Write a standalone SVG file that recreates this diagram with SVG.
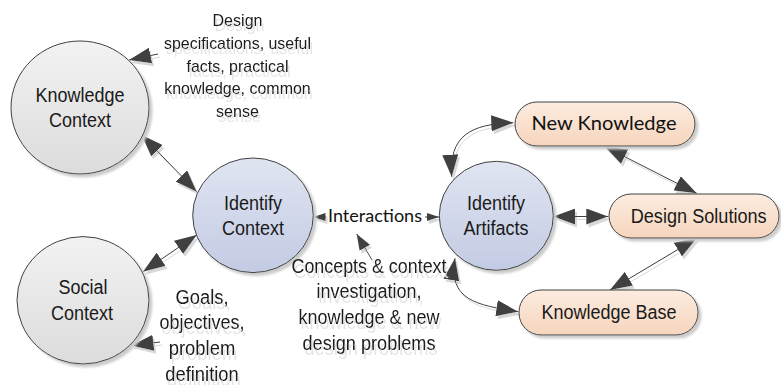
<svg xmlns="http://www.w3.org/2000/svg" width="781" height="385" viewBox="0 0 781 385">
<style>
.nd{stroke:#404040;stroke-width:1}
.lb{font-family:"Liberation Sans",Arial,sans-serif;font-size:19.5px;fill:#1a1a1a;text-anchor:middle}
.cb{font-family:Lato,"Open Sans",sans-serif;fill:#111;text-anchor:middle}
.an{font-family:"Liberation Sans",Arial,sans-serif;fill:#1a1a1a;text-anchor:middle}
.cn{fill:none;stroke:#404040;stroke-width:1}
</style>
<defs>
<linearGradient id="gg" x1="0" y1="0" x2="0" y2="1"><stop offset="0" stop-color="#f2f2f2"/><stop offset="1" stop-color="#dcdcdc"/></linearGradient>
<linearGradient id="gb" x1="0" y1="0" x2="0" y2="1"><stop offset="0" stop-color="#e0e5f1"/><stop offset="1" stop-color="#c3cbe4"/></linearGradient>
<linearGradient id="go" x1="0" y1="0" x2="0" y2="1"><stop offset="0" stop-color="#fcece0"/><stop offset="1" stop-color="#f6d5bd"/></linearGradient>
<filter id="sh" x="-10%" y="-10%" width="130%" height="130%">
<feOffset in="SourceAlpha" dx="3" dy="3" result="o"/>
<feGaussianBlur in="o" stdDeviation="1" result="b"/>
<feFlood flood-color="#cccccc"/>
<feComposite in2="b" operator="in" result="s"/>
<feMerge><feMergeNode in="s"/><feMergeNode in="SourceGraphic"/></feMerge>
</filter>
<filter id="ts" x="-10%" y="-10%" width="130%" height="150%">
<feOffset in="SourceAlpha" dx="2" dy="5" result="o"/>
<feFlood flood-color="#e4e4e4"/>
<feComposite in2="o" operator="in" result="s"/>
<feMerge><feMergeNode in="s"/><feMergeNode in="SourceGraphic"/></feMerge>
</filter>
<filter id="cs" x="-20%" y="-20%" width="140%" height="140%">
<feOffset in="SourceAlpha" dx="2" dy="3" result="o"/>
<feFlood flood-color="#d8d8d8"/>
<feComposite in2="o" operator="in" result="s"/>
<feMerge><feMergeNode in="s"/><feMergeNode in="SourceGraphic"/></feMerge>
</filter>
<marker id="ah" viewBox="0 0 22 16" refX="22" refY="8" markerWidth="22" markerHeight="16" markerUnits="userSpaceOnUse" orient="auto-start-reverse"><path d="M0,0 L22,8 L0,16 Z" fill="#404040"/></marker>
<marker id="am" viewBox="0 0 16 12" refX="16" refY="6" markerWidth="16" markerHeight="12" markerUnits="userSpaceOnUse" orient="auto-start-reverse"><path d="M0,0 L16,6 L0,12 Z" fill="#404040"/></marker>
<marker id="as" viewBox="0 0 12 8" refX="12" refY="4" markerWidth="12" markerHeight="8" markerUnits="userSpaceOnUse" orient="auto-start-reverse"><path d="M0,0 L12,4 L0,8 Z" fill="#404040"/></marker>
</defs>

<g id="connectors" filter="url(#cs)">
<line class="cn" x1="158" y1="54" x2="129" y2="60" marker-end="url(#ah)"/>
<line class="cn" x1="141.7" y1="135" x2="196.7" y2="191.7" marker-start="url(#ah)" marker-end="url(#ah)"/>
<line class="cn" x1="143" y1="271.7" x2="196.7" y2="235" marker-start="url(#ah)" marker-end="url(#ah)"/>
<line class="cn" x1="160" y1="342" x2="131.5" y2="345.5" marker-end="url(#ah)"/>
<line class="cn" x1="326" y1="217" x2="313.5" y2="217" marker-end="url(#as)"/>
<line class="cn" x1="425" y1="217" x2="439" y2="217" marker-end="url(#as)"/>
<line class="cn" x1="372" y1="260" x2="356.7" y2="234" marker-end="url(#am)"/>
<path class="cn" d="M451.7,176.7 C449,136 470,124 513.3,122.7" marker-start="url(#ah)" marker-end="url(#ah)"/>
<path class="cn" d="M455,258.3 C448,300 476,305 518.3,311.7" marker-start="url(#ah)" marker-end="url(#ah)"/>
<line class="cn" x1="553.3" y1="216.5" x2="608.3" y2="216.5" marker-start="url(#ah)" marker-end="url(#ah)"/>
<line class="cn" x1="605" y1="146.7" x2="696.7" y2="193.3" marker-start="url(#ah)" marker-end="url(#ah)"/>
<line class="cn" x1="696.7" y1="238.3" x2="610" y2="290" marker-start="url(#ah)" marker-end="url(#ah)"/>
</g>

<g id="knowledge-context">
<ellipse class="nd" cx="80" cy="107.5" rx="69" ry="66.5" fill="url(#gg)" filter="url(#sh)"/>
<text class="lb" x="80" y="101.7" textLength="89" lengthAdjust="spacingAndGlyphs">Knowledge</text>
<text class="lb" x="80" y="126.7" textLength="62" lengthAdjust="spacingAndGlyphs">Context</text>
</g>
<g id="social-context">
<ellipse class="nd" cx="83" cy="300.3" rx="66" ry="63.7" fill="url(#gg)" filter="url(#sh)"/>
<text class="lb" x="83" y="294" textLength="49" lengthAdjust="spacingAndGlyphs">Social</text>
<text class="lb" x="82" y="320" textLength="62" lengthAdjust="spacingAndGlyphs">Context</text>
</g>
<g id="identify-context">
<ellipse class="nd" cx="253" cy="215.3" rx="60.3" ry="57.3" fill="url(#gb)" filter="url(#sh)"/>
<text class="lb" x="253" y="210" textLength="58" lengthAdjust="spacingAndGlyphs">Identify</text>
<text class="lb" x="253" y="234.5" textLength="62" lengthAdjust="spacingAndGlyphs">Context</text>
</g>
<g id="identify-artifacts">
<ellipse class="nd" cx="496.3" cy="215.8" rx="57" ry="54.5" fill="url(#gb)" filter="url(#sh)"/>
<text class="lb" x="496" y="210" textLength="58" lengthAdjust="spacingAndGlyphs">Identify</text>
<text class="lb" x="496" y="235" textLength="65" lengthAdjust="spacingAndGlyphs">Artifacts</text>
</g>
<g id="new-knowledge">
<rect class="nd" x="515" y="102" width="180" height="44" rx="22" fill="url(#go)" filter="url(#sh)"/>
<text class="cb" x="604" y="130" font-size="19" textLength="145" lengthAdjust="spacingAndGlyphs">New Knowledge</text>
</g>
<g id="design-solutions">
<rect class="nd" x="609" y="194" width="170" height="44" rx="22" fill="url(#go)" filter="url(#sh)"/>
<text class="lb" x="698.7" y="223" textLength="136" lengthAdjust="spacingAndGlyphs">Design Solutions</text>
</g>
<g id="knowledge-base">
<rect class="nd" x="519" y="290" width="179" height="45" rx="22" fill="url(#go)" filter="url(#sh)"/>
<text class="lb" x="609" y="319" textLength="135" lengthAdjust="spacingAndGlyphs">Knowledge Base</text>
</g>

<g id="interactions">
<text class="cb" x="375" y="222" font-size="17" textLength="94" lengthAdjust="spacingAndGlyphs">Interactions</text>
</g>
<g id="design-note" filter="url(#ts)">
<text class="an" font-size="17" x="237.5" y="26" textLength="50" lengthAdjust="spacingAndGlyphs">Design</text>
<text class="an" font-size="17" x="237.5" y="49" textLength="147" lengthAdjust="spacingAndGlyphs">specifications, useful</text>
<text class="an" font-size="17" x="237.5" y="71.5" textLength="102" lengthAdjust="spacingAndGlyphs">facts, practical</text>
<text class="an" font-size="17" x="237.5" y="94" textLength="146.5" lengthAdjust="spacingAndGlyphs">knowledge, common</text>
<text class="an" font-size="17" x="237.5" y="116.5" textLength="43" lengthAdjust="spacingAndGlyphs">sense</text>
</g>
<g id="goals-note" filter="url(#ts)">
<text class="an" font-size="19.5" x="202" y="304" textLength="53" lengthAdjust="spacingAndGlyphs">Goals,</text>
<text class="an" font-size="19.5" x="202" y="329" textLength="85" lengthAdjust="spacingAndGlyphs">objectives,</text>
<text class="an" font-size="19.5" x="202" y="355" textLength="66.5" lengthAdjust="spacingAndGlyphs">problem</text>
<text class="an" font-size="19.5" x="202" y="380.5" textLength="73.5" lengthAdjust="spacingAndGlyphs">definition</text>
</g>
<g id="concepts-note" filter="url(#ts)">
<text class="an" font-size="19.5" x="369" y="272.7" textLength="155" lengthAdjust="spacingAndGlyphs">Concepts &amp; context</text>
<text class="an" font-size="19.5" x="369" y="298.3" textLength="105" lengthAdjust="spacingAndGlyphs">investigation,</text>
<text class="an" font-size="19.5" x="369" y="324" textLength="141" lengthAdjust="spacingAndGlyphs">knowledge &amp; new</text>
<text class="an" font-size="19.5" x="369" y="350" textLength="133" lengthAdjust="spacingAndGlyphs">design problems</text>
</g>
</svg>
